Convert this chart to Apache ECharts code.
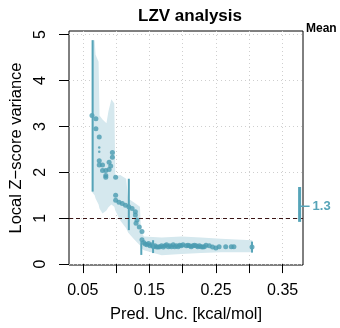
<!DOCTYPE html>
<html><head><meta charset="utf-8">
<script src="https://cdn.jsdelivr.net/npm/echarts@6/dist/echarts.min.js"></script>
<style>html,body{margin:0;padding:0;background:#fff}#c{width:340px;height:328px}</style>
</head><body><div id="c"></div>
<script>
// ---- data ----
const xTicks = [0.05, 0.10, 0.15, 0.20, 0.25, 0.30, 0.35];
const xTickLabels = ['0.05', '', '0.15', '', '0.25', '', '0.35'];
const yTicks = [0, 1, 2, 3, 4, 5];

// local Z-score variance points
const ptX = [0.0638, 0.0697, 0.0697, 0.0747, 0.0747, 0.0895, 0.0747, 0.0796, 0.0919, 0.0796, 0.0845, 0.0895,
  0.0845, 0.0845, 0.0993, 0.0944, 0.0944, 0.0993, 0.0993, 0.1043, 0.1092, 0.1141, 0.1191, 0.1240, 0.1289, 0.1289,
  0.1314, 0.1299, 0.1348, 0.1388, 0.1388, 0.1413, 0.1436, 0.1462, 0.1487, 0.1510, 0.1536, 0.1561, 0.1584, 0.1609,
  0.1635, 0.1658, 0.1683, 0.1709, 0.1732, 0.1757, 0.1783, 0.1806, 0.1831, 0.1857, 0.1880, 0.1905, 0.1931, 0.1954,
  0.1979, 0.2004, 0.2053, 0.2078, 0.2102, 0.2127, 0.2152, 0.2176, 0.2201, 0.2226, 0.2250, 0.2275, 0.2300, 0.2324,
  0.2349, 0.2398, 0.2448, 0.2497, 0.2546, 0.2645, 0.2729, 0.2768, 0.3040];
const ptY = [3.24, 3.17, 2.95, 2.77, 2.25, 2.22, 2.16, 2.16, 2.14, 2.04, 2.04, 2.06,
  1.93, 1.89, 1.89, 2.43, 2.33, 1.50, 1.39, 1.35, 1.32, 1.28, 1.25, 1.21, 1.14, 1.07,
  0.96, 0.89, 0.81, 0.71, 0.53, 0.47, 0.44, 0.42, 0.45, 0.40, 0.42, 0.38, 0.40, 0.37,
  0.37, 0.38, 0.40, 0.37, 0.40, 0.42, 0.38, 0.40, 0.38, 0.42, 0.38, 0.40, 0.38, 0.41,
  0.40, 0.42, 0.40, 0.41, 0.40, 0.38, 0.40, 0.41, 0.40, 0.38, 0.40, 0.38, 0.37, 0.38,
  0.41, 0.40, 0.37, 0.35, 0.38, 0.38, 0.38, 0.38, 0.37];
// small points
const smallX = [0.0747, 0.0747];
const smallY = [2.54, 2.45];

// error bars [x, low, high]
const barX = [0.0648, 0.1191, 0.1378, 0.1555, 0.3040];
const barLo = [1.58, 0.74, 0.20, 0.24, 0.25];
const barHi = [4.88, 1.86, 0.48, 0.52, 0.49];

// confidence band
const bandX = [0.0633, 0.0678, 0.0692, 0.0737, 0.0751, 0.0796, 0.0855, 0.0885, 0.0929, 0.0973, 0.0988,
  0.1062, 0.1151, 0.1180, 0.1269, 0.1358, 0.1373, 0.1417, 0.1683, 0.1979, 0.2275, 0.2571, 0.3044];
const bandUp = [4.88, 4.88, 4.56, 4.41, 3.24, 3.15, 3.07, 3.33, 3.59, 3.50, 1.92,
  1.94, 1.86, 1.43, 1.34, 1.25, 0.73, 0.60, 0.58, 0.60, 0.58, 0.55, 0.52];
const bandLo = [1.58, 1.50, 1.43, 1.30, 1.21, 1.10, 1.17, 1.24, 1.30, 1.25, 1.17,
  0.95, 0.78, 0.69, 0.54, 0.41, 0.36, 0.30, 0.19, 0.22, 0.24, 0.26, 0.26];

// mean
const meanX = 0.3754;
const meanLo = 0.92;
const meanHi = 1.68;
const meanVal = 1.26;
const meanLabel = '1.3';
const refLine = 1;

// ---- chart ----
const teal = '#4a9bb0';
const barCol = '#56a4b8';
const bandCol = '#d5e8ee';
const font = 'Liberation Sans, Arial, sans-serif';

const chart = echarts.init(document.getElementById('c'), null, {renderer: 'canvas'});
chart.setOption({
  animation: false,
  backgroundColor: '#fff',
  title: {
    text: 'LZV analysis', left: 185, top: 3, textAlign: 'center',
    textStyle: {fontFamily: font, fontSize: 17, fontWeight: 'bold', color: '#000'}
  },
  graphic: [{
    type: 'text', left: 306, top: 23,
    style: {text: 'Mean', fontFamily: font, fontSize: 12, fontWeight: 'bold', fill: '#000'}
  }],
  grid: {left: 66, right: 37, top: 31, bottom: 61, show: true, borderColor: '#000', borderWidth: 1, backgroundColor: 'transparent'},
  xAxis: {
    type: 'value', min: 0.0293, max: 0.3805, splitNumber: 7,
    name: 'Pred. Unc. [kcal/mol]', nameLocation: 'middle', nameGap: 41,
    nameTextStyle: {fontFamily: font, fontSize: 16.5, color: '#000'},
    axisLine: {show: false},
    axisTick: {show: true, length: 9, customValues: xTicks, lineStyle: {color: '#000'}},
    axisLabel: {
      customValues: xTicks, margin: 18, fontFamily: font, fontSize: 16, color: '#000',
      formatter: v => { const i = xTicks.findIndex(t => Math.abs(t - v) < 1e-6); return i >= 0 ? xTickLabels[i] : ''; }
    },
    splitLine: {show: true, lineStyle: {color: '#cfcfcf', type: [1, 3], width: 1}}
  },
  yAxis: {
    type: 'value', min: -0.02, max: 5.08, splitNumber: 5,
    name: 'Local Z\u2212score variance', nameLocation: 'middle', nameGap: 44,
    nameTextStyle: {fontFamily: font, fontSize: 16.5, color: '#000'},
    axisLine: {show: false},
    axisTick: {show: true, length: 10, customValues: yTicks, lineStyle: {color: '#000'}},
    axisLabel: {customValues: yTicks, rotate: 90, margin: 20, fontFamily: font, fontSize: 16, color: '#000'},
    splitLine: {show: true, lineStyle: {color: '#cfcfcf', type: [1, 3], width: 1}}
  },
  series: [
    {
      type: 'custom', z: 1, silent: true,
      data: [[bandX[0], bandUp[0]]],
      renderItem: (params, api) => {
        const pts = [];
        for (let i = 0; i < bandX.length; i++) pts.push(api.coord([bandX[i], bandUp[i]]));
        for (let i = bandX.length - 1; i >= 0; i--) pts.push(api.coord([bandX[i], bandLo[i]]));
        return {type: 'polygon', shape: {points: pts}, style: {fill: bandCol}};
      }
    },
    {
      type: 'scatter', z: 3, symbol: 'circle', symbolSize: 5,
      itemStyle: {color: teal},
      data: ptX.map((x, i) => [x, ptY[i]]),
      markLine: {
        silent: true, symbol: 'none', label: {show: false},
        lineStyle: {color: '#3a1414', type: [4, 3], width: 1},
        data: [{yAxis: refLine}]
      }
    },
    {
      type: 'scatter', z: 3, symbol: 'circle', symbolSize: 2.5,
      itemStyle: {color: teal},
      data: smallX.map((x, i) => [x, smallY[i]])
    },
    {
      type: 'custom', z: 4, silent: true,
      data: barX.map((x, i) => [x, barLo[i], barHi[i]]),
      encode: {x: 0, y: [1, 2]},
      renderItem: (params, api) => {
        const a = api.coord([api.value(0), api.value(1)]);
        const b = api.coord([api.value(0), api.value(2)]);
        return {type: 'line', shape: {x1: a[0], y1: a[1], x2: b[0], y2: b[1]}, style: {stroke: barCol, lineWidth: 2}};
      }
    },
    {
      type: 'custom', z: 5, silent: true, clip: false,
      data: [[meanX, meanLo, meanHi, meanVal]],
      encode: {x: 0, y: [1, 2]},
      renderItem: (params, api) => {
        const a = api.coord([api.value(0), api.value(1)]);
        const b = api.coord([api.value(0), api.value(2)]);
        const m = api.coord([api.value(0), api.value(3)]);
        return {type: 'group', children: [
          {type: 'line', shape: {x1: a[0], y1: a[1], x2: b[0], y2: b[1]}, style: {stroke: barCol, lineWidth: 3}},
          {type: 'line', shape: {x1: m[0], y1: m[1], x2: m[0] + 10, y2: m[1]}, style: {stroke: barCol, lineWidth: 1.5}},
          {type: 'text', x: m[0] + 13, y: m[1], style: {text: meanLabel, fill: barCol, font: 'bold 13px Liberation Sans, Arial, sans-serif', textVerticalAlign: 'middle', verticalAlign: 'middle'}}
        ]};
      }
    }
  ]
});
</script>
</body></html>
